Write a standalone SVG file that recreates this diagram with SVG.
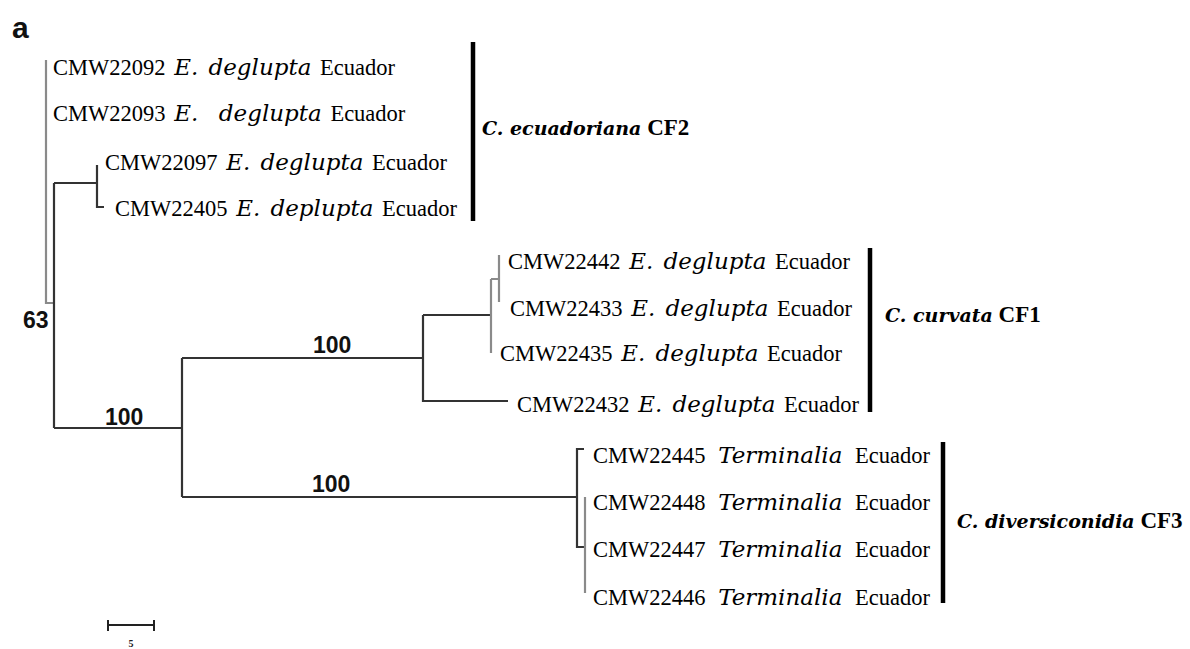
<svg xmlns="http://www.w3.org/2000/svg" width="1190" height="649" viewBox="0 0 1190 649">
<style>
.br{fill:none;stroke:#333;stroke-width:2.2}
.lt{fill:none;stroke:#8a8a8a;stroke-width:2.2}
.bar{fill:none;stroke:#000;stroke-width:4.5}
.tip{font-family:"Liberation Serif","Times New Roman",serif;font-size:22.5px;fill:#000;word-spacing:3px}
.tw{word-spacing:7px}
.sp{font-family:"DejaVu Serif","Liberation Serif",serif;font-style:italic;font-size:23px}
.cl{font-family:"Liberation Serif","Times New Roman",serif;font-size:23px;font-weight:bold;fill:#000}
.cli{font-family:"DejaVu Serif","Liberation Serif",serif;font-style:italic;font-size:19px}
.bs{font-family:"Liberation Sans",Arial,sans-serif;font-weight:bold;font-size:23px;fill:#111}
</style>
<rect width="1190" height="649" fill="#fff"/>
<text x="12" y="38" font-family="Liberation Sans,Arial,sans-serif" font-weight="bold" font-size="30" fill="#111">a</text>
<g id="connectors">
<path class="lt" d="M46,60 V303 H54"/>
<path class="br" d="M54,183 V428 M54,183 H97 M97,165 V207 H104"/>
<path class="br" d="M54,428 H182 M182,358 V497 M182,358 H423"/>
<path class="br" d="M423,315 V401 H508 M423,315 H491"/>
<path class="lt" d="M491,279 V353 M491,279 H499 M499,255 V302"/>
<path class="br" d="M182,497 H577 M584,449 H577 V547 H585"/>
<path class="lt" d="M585,497 V593"/>
</g>
<g id="support">
<text class="bs" x="23" y="328">63</text>
<text class="bs" x="105" y="425">100</text>
<text class="bs" x="313" y="353">100</text>
<text class="bs" x="312" y="492">100</text>
</g>
<g id="tip-CMW22092"><text class="tip" x="53" y="75">CMW22092 <tspan class="sp">E. deglupta</tspan> Ecuador</text></g>
<g id="tip-CMW22093"><text class="tip" x="53" y="121">CMW22093 <tspan class="sp">E.&#160; deglupta</tspan> Ecuador</text></g>
<g id="tip-CMW22097"><text class="tip" x="105" y="170">CMW22097 <tspan class="sp">E. deglupta</tspan> Ecuador</text></g>
<g id="tip-CMW22405"><text class="tip" x="115" y="216">CMW22405 <tspan class="sp">E. deplupta</tspan> Ecuador</text></g>
<g id="tip-CMW22442"><text class="tip" x="508" y="269">CMW22442 <tspan class="sp">E. deglupta</tspan> Ecuador</text></g>
<g id="tip-CMW22433"><text class="tip" x="510" y="316">CMW22433 <tspan class="sp">E. deglupta</tspan> Ecuador</text></g>
<g id="tip-CMW22435"><text class="tip" x="500" y="361">CMW22435 <tspan class="sp">E. deglupta</tspan> Ecuador</text></g>
<g id="tip-CMW22432"><text class="tip" x="517" y="412">CMW22432 <tspan class="sp">E. deglupta</tspan> Ecuador</text></g>
<g id="tip-CMW22445"><text class="tip tw" x="593" y="463">CMW22445 <tspan class="sp">Terminalia</tspan> Ecuador</text></g>
<g id="tip-CMW22448"><text class="tip tw" x="593" y="510">CMW22448 <tspan class="sp">Terminalia</tspan> Ecuador</text></g>
<g id="tip-CMW22447"><text class="tip tw" x="593" y="557">CMW22447 <tspan class="sp">Terminalia</tspan> Ecuador</text></g>
<g id="tip-CMW22446"><text class="tip tw" x="593" y="605">CMW22446 <tspan class="sp">Terminalia</tspan> Ecuador</text></g>
<g id="clade-CF2"><path class="bar" d="M473,42 V221"/><text class="cl" x="482" y="135"><tspan class="cli">C. ecuadoriana</tspan> CF2</text></g>
<g id="clade-CF1"><path class="bar" d="M870,248 V412"/><text class="cl" x="885" y="322"><tspan class="cli">C. curvata</tspan> CF1</text></g>
<g id="clade-CF3"><path class="bar" d="M943,442 V603"/><text class="cl" x="957" y="528"><tspan class="cli">C. diversiconidia</tspan> CF3</text></g>
<g id="scale-bar"><path fill="none" stroke="#222" stroke-width="2" d="M108,625 H154 M108,620 V631 M154,620 V631"/><text x="131" y="647" text-anchor="middle" font-family="Liberation Serif,serif" font-weight="bold" font-size="10" fill="#222">5</text></g>
</svg>
